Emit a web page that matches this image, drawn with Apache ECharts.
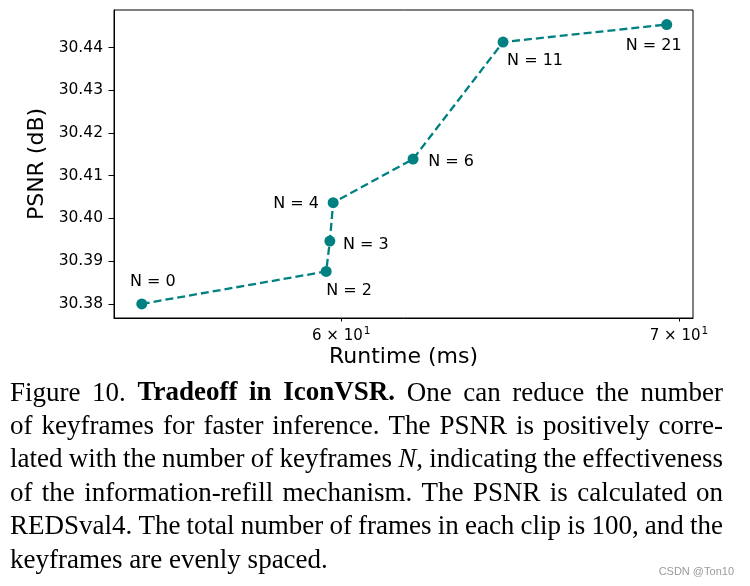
<!DOCTYPE html>
<html><head><meta charset="utf-8">
<script src="https://cdn.jsdelivr.net/npm/echarts@6/dist/echarts.min.js"></script>
<style>html,body{margin:0;padding:0;background:#fff}#c{width:750px;height:586px}</style>
</head><body><div id="c"></div>
<script>
// ---- data ----
const keyframes = [0, 2, 3, 4, 6, 11, 21];
const runtimeMs = [54.78, 59.59, 59.69, 59.78, 62.00, 64.60, 69.61];
const psnrDb = [30.3800, 30.3876, 30.3947, 30.4037, 30.4139, 30.4413, 30.4454];
const xTickValues = [60, 70];
const yTickValues = [30.38, 30.39, 30.40, 30.41, 30.42, 30.43, 30.44];
const captionLines = [
  "Figure 10. **Tradeoff in IconVSR.** One can reduce the number",
  "of keyframes for faster inference. The PSNR is positively corre-",
  "lated with the number of keyframes _N_, indicating the effectiveness",
  "of the information-refill mechanism. The PSNR is calculated on",
  "REDSval4. The total number of frames in each clip is 100, and the",
  "keyframes are evenly spaced."
];
const watermark = "CSDN @Ton10";

// ---- layout / style ----
const labelOffsets = [[11, -22], [23, 19], [36, 4], [-37, 1], [38, 3], [32, 19], [-13, 21]];
const FONT = '"DejaVu Sans", sans-serif';
const SERIF = '"Liberation Serif", "Times New Roman", serif';
const TEAL = '#008080';

const chart = echarts.init(document.getElementById('c'), null, {renderer: 'canvas'});

const seriesData = runtimeMs.map((x, i) => ({
  value: [x, psnrDb[i]],
  label: {offset: labelOffsets[i]}
}));

// caption (justified via word placement)
function parseLine(s) {
  const words = []; let bold = false, ital = false; let cur = []; let buf = '';
  const flush = () => { if (buf) { cur.push({t: buf, b: bold, i: ital}); buf = ''; } };
  for (let k = 0; k < s.length; k++) {
    if (s.startsWith('**', k)) { flush(); bold = !bold; k++; continue; }
    if (s[k] === '_') { flush(); ital = !ital; continue; }
    if (s[k] === ' ') { flush(); if (cur.length) { words.push(cur); cur = []; } continue; }
    buf += s[k];
  }
  flush(); if (cur.length) words.push(cur);
  return words;
}
const CAP_SIZE = 27;
const capFont = r => `${r.i ? 'italic ' : ''}${r.b ? 'bold ' : ''}${CAP_SIZE}px ${SERIF}`;
const mctx = document.createElement('canvas').getContext('2d');
function measure(r) { mctx.font = capFont(r); return mctx.measureText(r.t).width; }
const capLeft = 10, capRight = 723, capTop = 393.5, capStep = 33.4;
const graphics = [];
captionLines.forEach((line, li) => {
  const words = parseLine(line);
  const widths = words.map(w => w.reduce((s, r) => s + measure(r), 0));
  const total = widths.reduce((a, b) => a + b, 0);
  const last = li === captionLines.length - 1;
  const gap = last ? measure({t: ' '}) : (capRight - capLeft - total) / (words.length - 1);
  let x = capLeft;
  const y = capTop + li * capStep;
  words.forEach((w, wi) => {
    let xx = x;
    w.forEach(r => {
      graphics.push({
        type: 'text', x: xx, y: y, silent: true,
        style: {
          text: r.t, fontSize: CAP_SIZE, fontFamily: SERIF,
          fontWeight: r.b ? 'bold' : 'normal', fontStyle: r.i ? 'italic' : 'normal',
          fill: '#000', align: 'left', verticalAlign: 'middle',
          textAlign: 'left', textVerticalAlign: 'middle'
        }
      });
      xx += measure(r);
    });
    x += widths[wi] + gap;
  });
});
graphics.push({
  type: 'text', x: 734, y: 572, silent: true,
  style: {text: watermark, fontSize: 11, fontFamily: '"Liberation Sans", sans-serif', fill: '#9a9a9a',
    align: 'right', verticalAlign: 'middle', textAlign: 'right', textVerticalAlign: 'middle'}
});

function xFmt(v) {
  const e = Math.floor(Math.log10(v) + 1e-9);
  const m = Math.round(v / Math.pow(10, e));
  return '{m|' + m + ' × 10}{e|' + e + '}';
}

chart.setOption({
  animation: false,
  backgroundColor: '#fff',
  textStyle: {fontFamily: FONT},
  grid: {left: 114, right: 57, top: 10, bottom: 268, show: true, borderColor: '#000', borderWidth: 1, backgroundColor: 'transparent'},
  xAxis: {
    type: 'log', logBase: 10, min: 54.09, max: 70.45,
    axisLine: {show: true, lineStyle: {color: '#000', width: 1}},
    axisTick: {show: true, inside: false, length: 3.5, customValues: xTickValues, lineStyle: {color: '#000', width: 1}},
    minorTick: {show: false}, splitLine: {show: false},
    axisLabel: {
      customValues: xTickValues, margin: 8, color: '#000', fontFamily: FONT, fontSize: 15,
      formatter: xFmt,
      rich: {
        m: {fontSize: 15, fontFamily: FONT, color: '#000'},
        e: {fontSize: 10.5, fontFamily: FONT, color: '#000', padding: [0, 0, 9, 1]}
      }
    },
    name: 'Runtime (ms)', nameLocation: 'middle', nameGap: 28, nameMoveOverlap: false,
    nameTextStyle: {fontSize: 22, fontFamily: FONT, color: '#000'}
  },
  yAxis: {
    type: 'value', min: 30.3767, max: 30.4488,
    axisLine: {show: true, lineStyle: {color: '#000', width: 1}},
    axisTick: {show: true, inside: false, length: 5.5, customValues: yTickValues, lineStyle: {color: '#000', width: 1}},
    splitLine: {show: false},
    axisLabel: {customValues: yTickValues, margin: 11, color: '#000', fontFamily: FONT, fontSize: 15.5,
      formatter: v => Number(v).toFixed(2)},
    name: 'PSNR (dB)', nameLocation: 'middle', nameGap: 66, nameRotate: 90, nameMoveOverlap: false,
    nameTextStyle: {fontSize: 22, fontFamily: FONT, color: '#000'}
  },
  series: [{
    type: 'line', data: seriesData,
    symbol: 'circle', symbolSize: 11,
    itemStyle: {color: TEAL},
    lineStyle: {color: TEAL, width: 2.3, type: [8, 4]},
    label: {
      show: true, position: 'inside', color: '#000', fontSize: 16, fontFamily: FONT,
      formatter: p => 'N = ' + keyframes[p.dataIndex]
    },
    emphasis: {disabled: true}
  }],
  graphic: graphics
});
</script>
</body></html>
